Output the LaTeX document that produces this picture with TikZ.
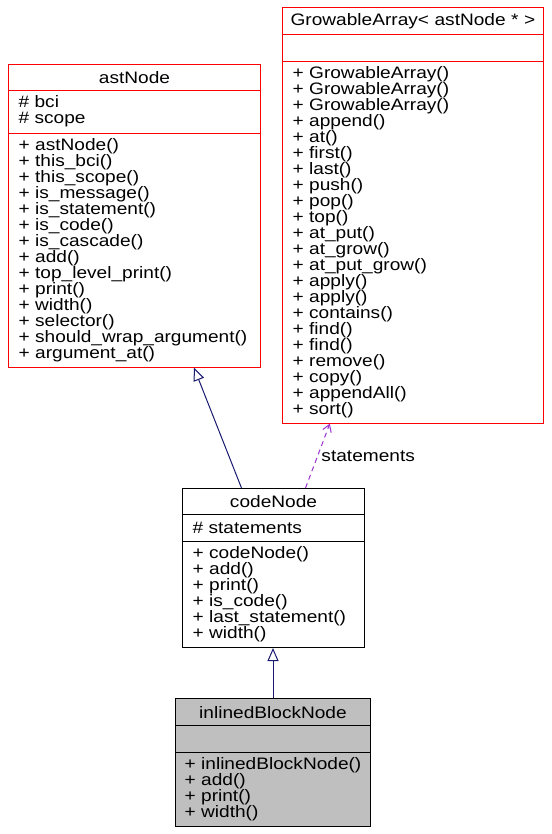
\documentclass[tikz,border=0pt]{standalone}
\usepackage{fontspec}
\setmainfont[FakeStretch=1.15]{Liberation Sans}
\usepackage{xcolor}
\usetikzlibrary{arrows.meta}
\definecolor{edgeblue}{HTML}{191970}
\definecolor{edgepurple}{HTML}{9A32CD}
\hyphenpenalty=10000

\begin{document}
\begin{tikzpicture}[x=1pt,y=-1pt,font=\fontsize{16.6}{16}\selectfont,line width=1pt,
  part/.style={draw,anchor=north west,inner xsep=10pt,inner ysep=0pt,align=left},
  title/.style={part,inner xsep=0pt,align=center},
  inherit/.style={draw=edgeblue,-{Triangle[open,length=13pt,width=11pt]}},
  usage/.style={draw=edgepurple,dash pattern=on 5pt off 4pt,-{Straight Barb[length=7pt,width=9pt]}}]
\useasboundingbox (0,0) rectangle (551,834);
\node[title,draw=red,minimum width=252,text width=252,minimum height=25.7] (astTitle) at (8,64) {astNode};
\node[part,draw=red,minimum width=252,text width=232,minimum height=43] (astAttrs) at (8,89.7) {\# bci\\\# scope};
\node[part,draw=red,minimum width=252,text width=232,minimum height=234] (astMethods) at (8,132.7) {+ astNode()\\+ this\_bci()\\+ this\_scope()\\+ is\_message()\\+ is\_statement()\\+ is\_code()\\+ is\_cascade()\\+ add()\\+ top\_level\_print()\\+ print()\\+ width()\\+ selector()\\+ should\_wrap\_argument()\\+ argument\_at()};
\node[title,draw=red,minimum width=261,text width=261,minimum height=26.5] (growTitle) at (282,7.5) {GrowableArray< astNode * >};
\node[part,draw=red,minimum width=261,text width=241,minimum height=27] (growAttrs) at (282,34) {};
\node[part,draw=red,minimum width=261,text width=241,minimum height=361.7] (growMethods) at (282,61) {+ GrowableArray()\\+ GrowableArray()\\+ GrowableArray()\\+ append()\\+ at()\\+ first()\\+ last()\\+ push()\\+ pop()\\+ top()\\+ at\_put()\\+ at\_grow()\\+ at\_put\_grow()\\+ apply()\\+ apply()\\+ contains()\\+ find()\\+ find()\\+ remove()\\+ copy()\\+ appendAll()\\+ sort()};
\node[title,minimum width=182,text width=182,minimum height=25.5] (codeTitle) at (182,488) {codeNode};
\node[part,minimum width=182,text width=162,minimum height=27.5] (codeAttrs) at (182,513.5) {\# statements};
\node[part,minimum width=182,text width=162,minimum height=106] (codeMethods) at (182,541) {+ codeNode()\\+ add()\\+ print()\\+ is\_code()\\+ last\_statement()\\+ width()};
\node[title,fill=black!25,minimum width=195,text width=195,minimum height=26.7] (inlTitle) at (175,698.3) {inlinedBlockNode};
\node[part,fill=black!25,minimum width=195,text width=175,minimum height=26.7] (inlAttrs) at (175,725) {};
\node[part,fill=black!25,inner xsep=9pt,minimum width=195,text width=177,minimum height=74.3] (inlMethods) at (175,751.7) {+~inlinedBlockNode()\\+ add()\\+ print()\\+ width()};
\draw[inherit] ([xshift=-32]codeTitle.north) -- ([xshift=59.5]astMethods.south);
\draw[usage] ([xshift=32]codeTitle.north) -- ([xshift=-83.2]growMethods.south) node[pos=0.5,right] (stmtLabel) {statements};
\draw[inherit] (inlTitle.north) -- (inlTitle.north |- codeMethods.south);
\end{tikzpicture}
\end{document}
